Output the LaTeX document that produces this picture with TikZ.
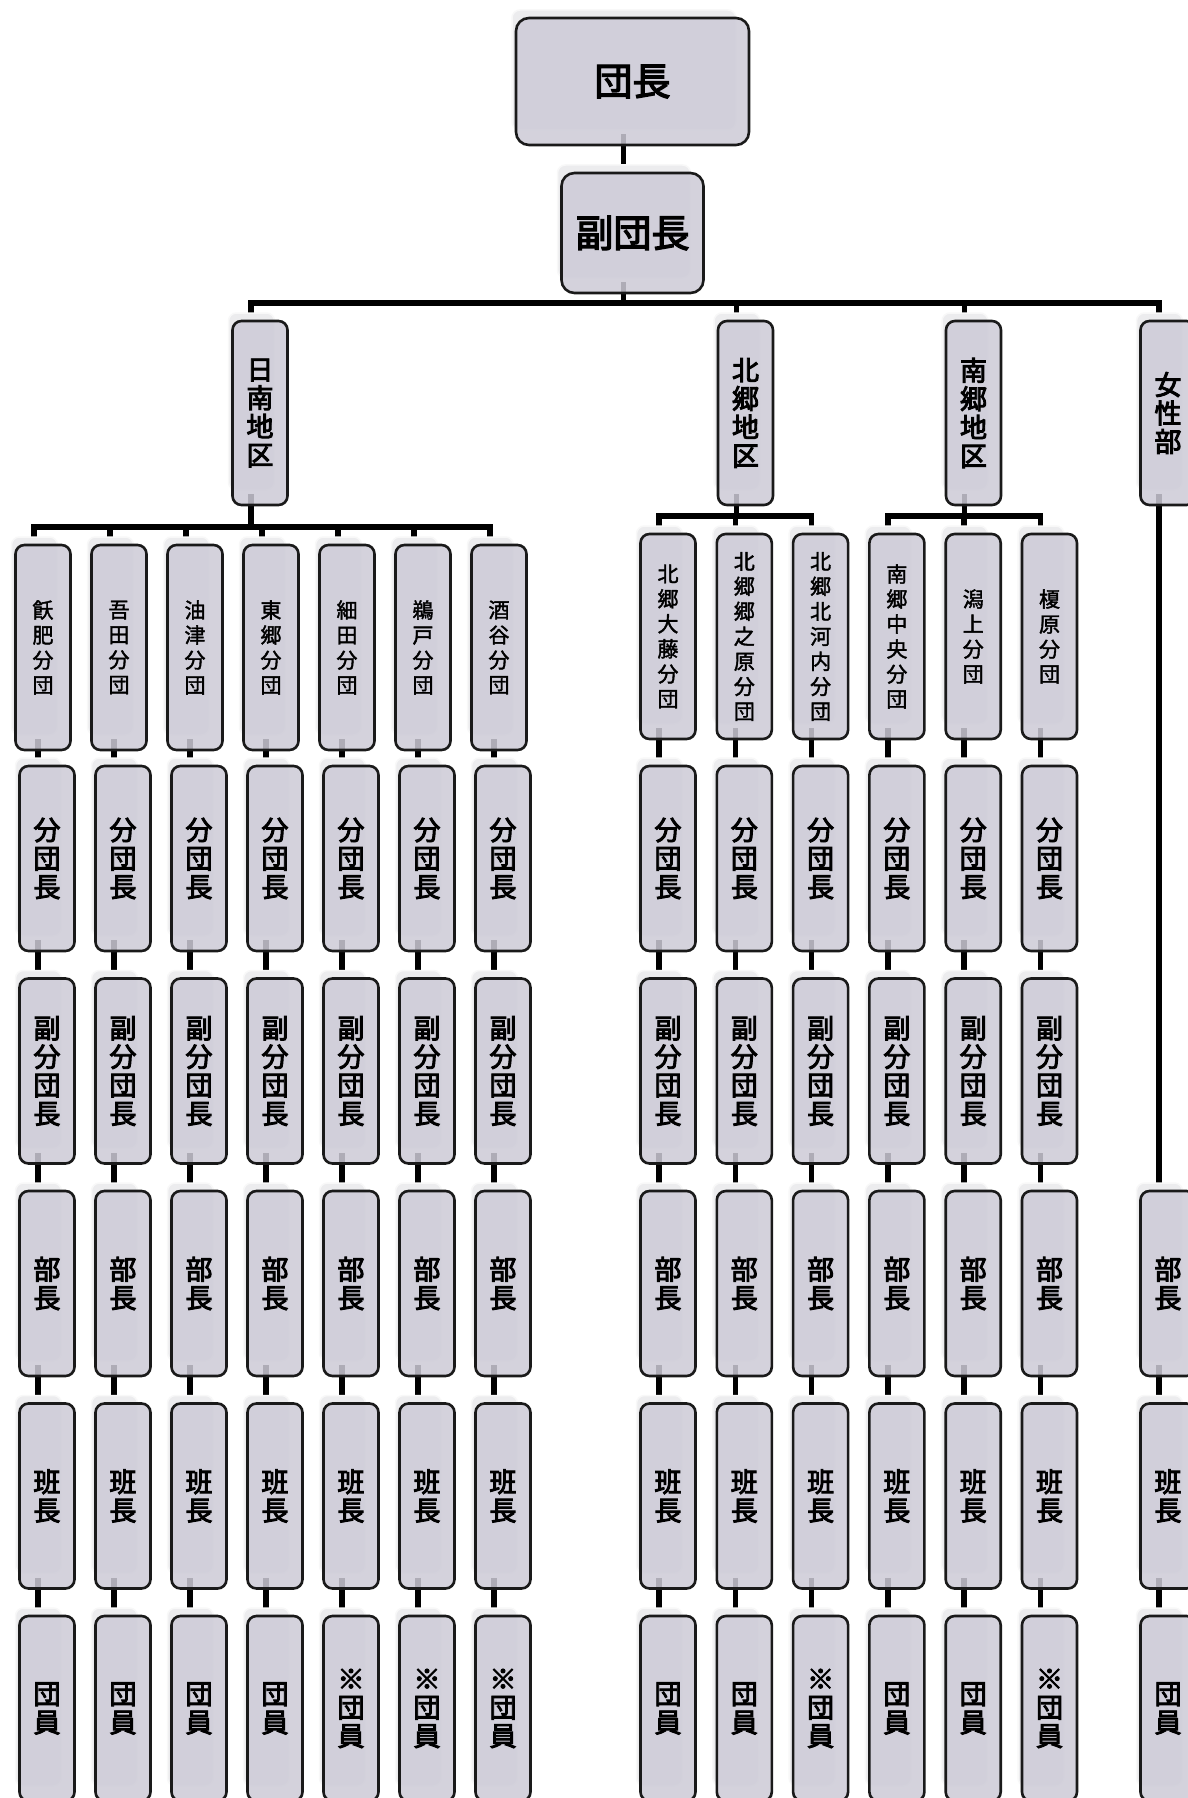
\documentclass[tikz,border=0pt]{standalone}
\usepackage{fontspec}
\newfontfamily\jp{Noto Sans CJK JP}
\newfontfamily\jpb[FakeBold=3.5]{Noto Sans CJK JP}
\newfontfamily\jpm[FakeBold=1.8]{Noto Sans CJK JP}
\usetikzlibrary{calc}
\pgfdeclarelayer{background}
\pgfdeclarelayer{conn}
\pgfdeclarelayer{sheet}
\pgfsetlayers{background,conn,sheet,main}
\definecolor{boxfill}{HTML}{CDCBD7}
\definecolor{boxline}{HTML}{1A1A1A}
\definecolor{sheetfill}{HTML}{ECECEE}
\definecolor{sheetline}{HTML}{F8F8F8}
\tikzset{
  box/.style={draw=boxline,line width=2.6pt,fill=boxfill,fill opacity=0.85,text opacity=1,
    rounded corners=9pt,inner sep=0pt,align=center,font=\jpb\fontsize{27}{28.5}\selectfont},
  smalltext/.style={font=\jpm\fontsize{21}{25}\selectfont},
  bigtext/.style={font=\jpb\fontsize{38}{40}\selectfont,rounded corners=13pt},
  sheet/.style={fill=sheetfill,draw=sheetline,line width=1.5pt,rounded corners=8pt},
  conn/.style={draw=black,line width=5.6pt},
}
% box: [style] name, cx, cy, w, h, text
\newcommand\bx[7][]{%
  \begin{pgfonlayer}{sheet}
    \path[sheet] ({#3-#5/2-4},{#4-#6/2-8}) rectangle ({#3+#5/2-13},{#4+#6/2-15});
  \end{pgfonlayer}
  \node[box,#1,minimum width=#5pt,minimum height=#6pt] (#2) at (#3,#4) {#7};}
% vertical link: from, to, x shift at source
\newcommand\lnk[3]{\begin{pgfonlayer}{conn}\draw[conn] ($(#1.south)+(#3,-12)$) -- ($(#2.north)+(-9,0)$);\end{pgfonlayer}}
% bus link: from, to
\newcommand\bus[2]{\begin{pgfonlayer}{conn}\draw[conn] ($(#1.south)+(-9,-12)$) |- ($(#2.north)+(-9,-17)$) -- ($(#2.north)+(-9,0)$);\end{pgfonlayer}}
\begin{document}
\begin{tikzpicture}[x=1pt,y=-1pt]
\useasboundingbox (0,0) rectangle (1187,1798);
\begin{pgfonlayer}{background}
  \fill[white] (0,0) rectangle (1187,1798);
\end{pgfonlayer}
% top
\bx[bigtext]{T}{632.5}{81.5}{233}{127}{団長}
\bx[bigtext]{V}{632.5}{233}{142}{120}{副団長}
\lnk{T}{V}{-9}
% districts
\bx{D1}{260}{413}{55}{184}{日\\南\\地\\区}
\bx{D2}{745.5}{413}{55}{184}{北\\郷\\地\\区}
\bx{D3}{973.5}{413}{55}{184}{南\\郷\\地\\区}
\bx{D4}{1168}{413}{55}{184}{女\\性\\部}
\bus{V}{D1}
\bus{V}{D2}
\bus{V}{D3}
\bus{V}{D4}
% branches, left group
\foreach \k/\t in {0/飫\\肥\\分\\団,1/吾\\田\\分\\団,2/油\\津\\分\\団,3/東\\郷\\分\\団,4/細\\田\\分\\団,5/鵜\\戸\\分\\団,6/酒\\谷\\分\\団}{
  \pgfmathsetmacro\x{43+76*\k}
  \bx[smalltext]{LB\k}{\x}{647.5}{55}{205}{\t}
  \bus{D1}{LB\k}
}
% branches, right group
\foreach \k/\t/\d in {0/北\\郷\\大\\藤\\分\\団/D2,1/北\\郷\\郷\\之\\原\\分\\団/D2,2/北\\郷\\北\\河\\内\\分\\団/D2,3/南\\郷\\中\\央\\分\\団/D3,4/潟\\上\\分\\団/D3,5/榎\\原\\分\\団/D3}{
  \pgfmathsetmacro\x{668+76.3*\k}
  \bx[smalltext]{RB\k}{\x}{636.5}{55}{205}{\t}
  \bus{\d}{RB\k}
}
% officer rows
\foreach \r/\y/\t in {1/858.5/分\\団\\長,2/1071/副\\分\\団\\長,3/1283.5/部\\長,4/1496/班\\長}{
  \foreach \k in {0,...,6}{
    \pgfmathsetmacro\x{47+76*\k}
    \bx{L\k-\r}{\x}{\y}{55}{185}{\t}
  }
  \foreach \k in {0,...,5}{
    \pgfmathsetmacro\x{668+76.3*\k}
    \bx{R\k-\r}{\x}{\y}{55}{185}{\t}
  }
}
% member row
\foreach \k/\t in {0/団\\員,1/団\\員,2/団\\員,3/団\\員,4/※\\団\\員,5/※\\団\\員,6/※\\団\\員}{
  \pgfmathsetmacro\x{47+76*\k}
  \bx{L\k-5}{\x}{1708.5}{55}{185}{\t}
}
\foreach \k/\t in {0/団\\員,1/団\\員,2/※\\団\\員,3/団\\員,4/団\\員,5/※\\団\\員}{
  \pgfmathsetmacro\x{668+76.3*\k}
  \bx{R\k-5}{\x}{1708.5}{55}{185}{\t}
}
% women's section
\bx{W3}{1168}{1283.5}{55}{185}{部\\長}
\bx{W4}{1168}{1496}{55}{185}{班\\長}
\bx{W5}{1168}{1708.5}{55}{185}{団\\員}
\lnk{D4}{W3}{-9}
\lnk{W3}{W4}{-9}
\lnk{W4}{W5}{-9}
% column links
\foreach \k in {0,...,6}{
  \lnk{LB\k}{L\k-1}{-5}
  \lnk{L\k-1}{L\k-2}{-9}
  \lnk{L\k-2}{L\k-3}{-9}
  \lnk{L\k-3}{L\k-4}{-9}
  \lnk{L\k-4}{L\k-5}{-9}
}
\foreach \k in {0,...,5}{
  \lnk{RB\k}{R\k-1}{-9}
  \lnk{R\k-1}{R\k-2}{-9}
  \lnk{R\k-2}{R\k-3}{-9}
  \lnk{R\k-3}{R\k-4}{-9}
  \lnk{R\k-4}{R\k-5}{-9}
}
\end{tikzpicture}
\end{document}
